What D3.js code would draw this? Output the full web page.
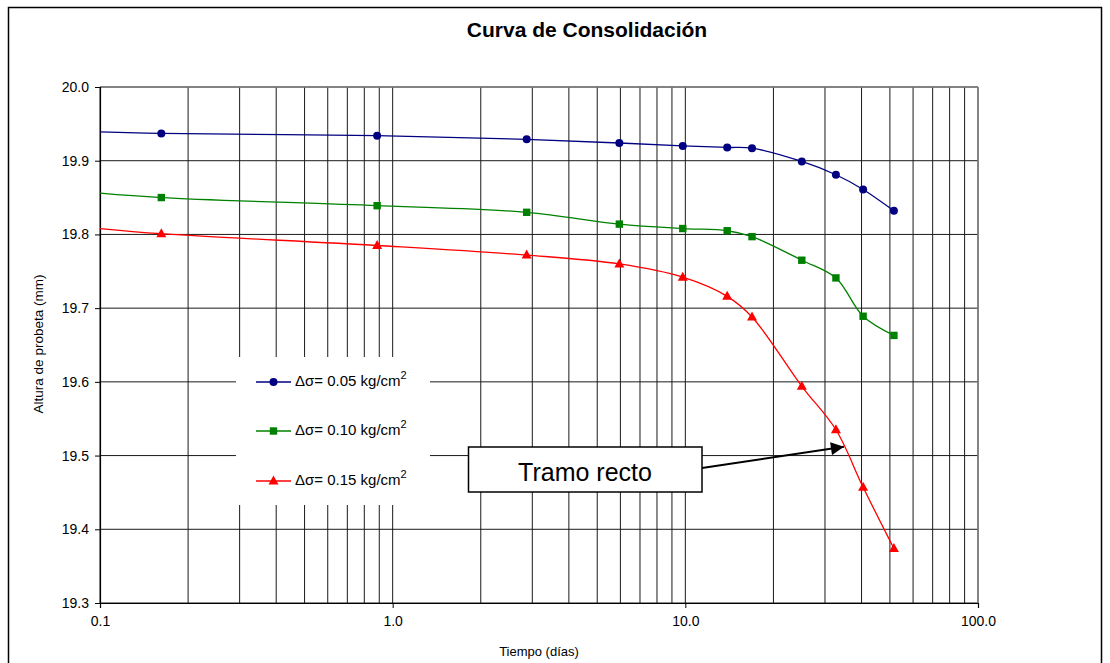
<!DOCTYPE html>
<html>
<head>
<meta charset="utf-8">
<script src="https://cdn.jsdelivr.net/npm/d3@7/dist/d3.min.js"></script>
<style>
  html, body { margin: 0; padding: 0; background: #fff; }
  svg { display: block; font-family: "Liberation Sans", Arial, sans-serif; }
</style>
</head>
<body>
<svg id="chart" width="1110" height="663"></svg>
<script>
// ---------- data ----------
const chartTitle = "Curva de Consolidación";
const xLabel = "Tiempo (días)";
const yLabel = "Altura de probeta (mm)";
const seriesNames = ["0.05", "0.10", "0.15"];
const times = [0.162, 0.885, 2.87, 5.95, 9.8, 13.9, 16.9, 25.0, 32.7, 40.5, 51.6];
const alturaA = [19.937, 19.934, 19.929, 19.924, 19.920, 19.918, 19.917, 19.899, 19.881, 19.861, 19.832];
const alturaB = [19.850, 19.839, 19.830, 19.814, 19.808, 19.805, 19.797, 19.765, 19.741, 19.689, 19.663];
const alturaC = [19.801, 19.785, 19.772, 19.760, 19.742, 19.716, 19.688, 19.594, 19.535, 19.457, 19.374];
// readings where the curves enter the plot at its left edge (no marker)
const startTime = 0.1;
const startValues = [19.939, 19.856, 19.808];
const xTickValues = [0.1, 1, 10, 100];
const yTickValues = [19.3, 19.4, 19.5, 19.6, 19.7, 19.8, 19.9, 20.0];
const annotationText = "Tramo recto";
const annotationTarget = { t: 32.7, v: 19.535 };

// ---------- layout ----------
const svg = d3.select("#chart");
const M = { left: 100, right: 978, top: 87, bottom: 603 };
const x = d3.scaleLog().domain([0.1, 100]).range([M.left, M.right]);
const y = d3.scaleLinear().domain([19.3, 20.0]).range([M.bottom, M.top]);

// outer chart border
svg.append("rect").attr("x", 8.5).attr("y", 7.5).attr("width", 1093).attr("height", 670)
  .attr("fill", "#fff").attr("stroke", "#000").attr("stroke-width", 1.5);

// title
svg.append("text").attr("x", 587).attr("y", 37).attr("text-anchor", "middle")
  .attr("font-size", 21).attr("font-weight", "bold").text(chartTitle);

// gridlines
const g = svg.append("g");
const minor = [];
for (let d = 0.1; d < 100; d *= 10) for (let k = 1; k <= 9; k++) minor.push(+(d * k).toPrecision(3));
minor.push(100);
g.selectAll("line.vg").data(minor).join("line").attr("class", "vg")
  .attr("x1", d => x(d)).attr("x2", d => x(d)).attr("y1", M.top).attr("y2", M.bottom)
  .attr("stroke", "#1a1a1a").attr("stroke-width", 1);
g.selectAll("line.hg").data(yTickValues).join("line").attr("class", "hg")
  .attr("x1", M.left).attr("x2", M.right).attr("y1", d => y(d)).attr("y2", d => y(d))
  .attr("stroke", "#1a1a1a").attr("stroke-width", 1);
// plot frame (top/right gray)
g.append("line").attr("x1", M.left).attr("x2", M.right).attr("y1", M.top).attr("y2", M.top)
  .attr("stroke", "#808080").attr("stroke-width", 1.5);
g.append("line").attr("x1", M.right).attr("x2", M.right).attr("y1", M.top).attr("y2", M.bottom)
  .attr("stroke", "#808080").attr("stroke-width", 1.5);

// axes
const yAxis = d3.axisLeft(y).tickValues(yTickValues).tickFormat(d3.format(".1f")).tickSize(5).tickPadding(6);
const xAxis = d3.axisBottom(x).tickValues(xTickValues).tickFormat(d3.format(".1f")).tickSize(5).tickPadding(8);
const ya = svg.append("g").attr("transform", `translate(${M.left},0)`).call(yAxis);
const xa = svg.append("g").attr("transform", `translate(0,${M.bottom})`).call(xAxis);
[ya, xa].forEach(a => {
  a.select(".domain").attr("stroke", "#000").attr("stroke-width", 1.2);
  a.selectAll(".tick line").attr("stroke", "#000");
  a.selectAll("text").attr("font-size", 14).attr("fill", "#000")
    .attr("font-family", "Liberation Sans, Arial, sans-serif");
});
xa.selectAll("text").attr("dy", "0.71em");

// axis labels
svg.append("text").attr("x", 539).attr("y", 656).attr("text-anchor", "middle")
  .attr("font-size", 13).text(xLabel);
svg.append("text").attr("transform", "translate(43,344) rotate(-90)").attr("text-anchor", "middle")
  .attr("font-size", 13.5).text(yLabel);

// clip
svg.append("clipPath").attr("id", "plotclip").append("rect")
  .attr("x", M.left).attr("y", M.top - 10).attr("width", M.right - M.left).attr("height", M.bottom - M.top + 20);

const colors = ["#000080", "#008000", "#FF0000"];
const datasets = [alturaA, alturaB, alturaC];
const line = d3.line().x(d => x(d[0])).y(d => y(d[1])).curve(d3.curveCatmullRom.alpha(0.5));
const plot = svg.append("g").attr("clip-path", "url(#plotclip)");

function marker(sel, i, cx, cy) {
  if (i === 0) {
    sel.append("circle").attr("cx", cx).attr("cy", cy).attr("r", 4).attr("fill", colors[i]);
  } else if (i === 1) {
    sel.append("rect").attr("x", cx - 3.7).attr("y", cy - 3.7).attr("width", 7.4).attr("height", 7.4).attr("fill", colors[i]);
  } else {
    sel.append("path").attr("d", `M${cx},${cy - 5.5}L${cx + 5},${cy + 3.5}L${cx - 5},${cy + 3.5}Z`).attr("fill", colors[i]);
  }
}

datasets.forEach((vals, i) => {
  const pts = [[startTime, startValues[i]]].concat(times.map((t, j) => [t, vals[j]]));
  plot.append("path").attr("d", line(pts)).attr("fill", "none")
    .attr("stroke", colors[i]).attr("stroke-width", 1.3);
  const mg = plot.append("g");
  times.forEach((t, j) => marker(mg, i, x(t), y(vals[j])));
});

// legend (white box, no border)
const lg = svg.append("g");
lg.append("rect").attr("x", 236).attr("y", 357).attr("width", 194).attr("height", 148).attr("fill", "#fff");
const legY = [382, 431, 481];
seriesNames.forEach((n, i) => {
  lg.append("line").attr("x1", 256).attr("x2", 291).attr("y1", legY[i]).attr("y2", legY[i])
    .attr("stroke", colors[i]).attr("stroke-width", 1.3);
  marker(lg, i, 273.5, legY[i]);
  const t = lg.append("text").attr("x", 295).attr("y", legY[i] + 4).attr("font-size", 15);
  t.append("tspan").text("Δσ= " + n + " kg/cm");
  t.append("tspan").attr("dy", -7).attr("font-size", 11).text("2");
});

// annotation box + arrow
svg.append("defs").append("marker").attr("id", "arrow").attr("viewBox", "0 0 10 10")
  .attr("refX", 10).attr("refY", 5).attr("markerWidth", 7.5).attr("markerHeight", 6.5)
  .attr("orient", "auto").attr("markerUnits", "strokeWidth")
  .append("path").attr("d", "M0,0L10,5L0,10Z").attr("fill", "#000");
const tx = x(annotationTarget.t) + 8, ty = y(annotationTarget.v) + 17;
svg.append("line").attr("x1", 702).attr("y1", 468).attr("x2", tx).attr("y2", ty)
  .attr("stroke", "#000").attr("stroke-width", 2).attr("marker-end", "url(#arrow)");
svg.append("rect").attr("x", 468.5).attr("y", 447).attr("width", 233.5).attr("height", 45)
  .attr("fill", "#fff").attr("stroke", "#000").attr("stroke-width", 1.5);
svg.append("text").attr("x", 585).attr("y", 481).attr("text-anchor", "middle")
  .attr("font-size", 25).text(annotationText);
</script>
</body>
</html>
